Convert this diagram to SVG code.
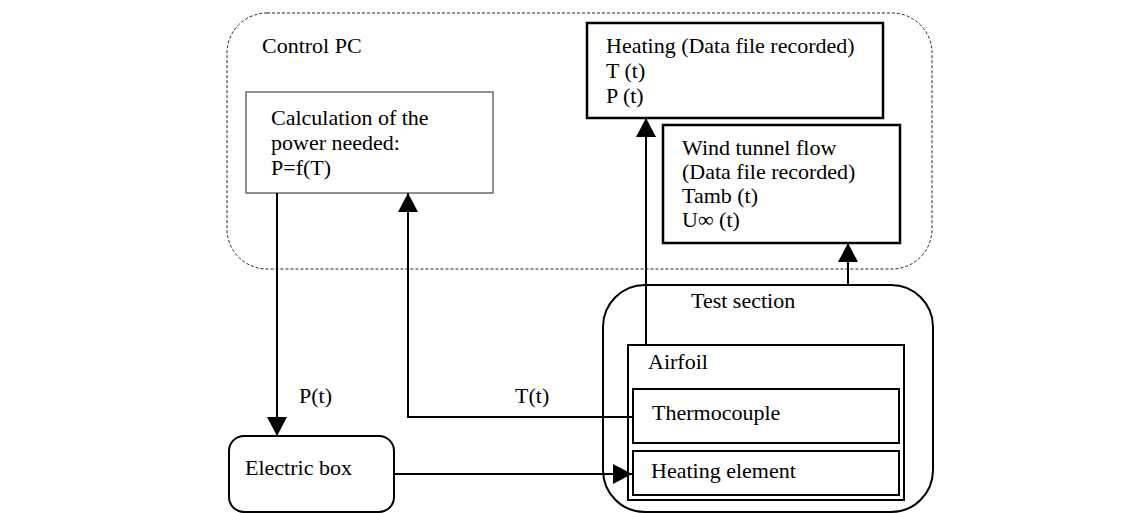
<svg xmlns="http://www.w3.org/2000/svg" width="1138" height="513" viewBox="0 0 1138 513">
<style>
text{font-family:"Liberation Serif","Times New Roman",serif;font-size:22px;fill:#000}
.box{fill:#fff;stroke:#000;stroke-width:2}
.thick{fill:#fff;stroke:#000;stroke-width:2.5}
.thin{fill:#fff;stroke:#555;stroke-width:1.3}
.dash{fill:none;stroke:#222;stroke-width:1;stroke-dasharray:3 2}
.conn{fill:none;stroke:#000;stroke-width:2}
</style>
<defs>
<marker id="arr" markerUnits="userSpaceOnUse" markerWidth="20" markerHeight="20" refX="19" refY="10" orient="auto">
<path d="M0,0 L19,10 L0,20 Z" fill="#000"/>
</marker>
</defs>
<rect width="1138" height="513" fill="#fff"/>
<g id="control-pc">
<rect class="dash" x="227" y="13" width="705" height="256" rx="40"/>
<text x="262" y="53">Control PC</text>
</g>
<g id="heating-data">
<rect class="thick" x="587" y="23" width="296" height="95"/>
<text x="606" y="53">Heating (Data file recorded)</text>
<text x="606" y="78">T (t)</text>
<text x="606" y="103">P (t)</text>
</g>
<g id="wind-data">
<rect class="thick" x="663" y="125" width="237" height="118"/>
<text x="682" y="155">Wind tunnel flow</text>
<text x="682" y="179">(Data file recorded)</text>
<text x="682" y="203">Tamb (t)</text>
<text x="682" y="227">U∞ (t)</text>
</g>
<g id="calculation">
<rect class="thin" x="246" y="92" width="247" height="101"/>
<text x="271" y="125">Calculation of the</text>
<text x="271" y="150">power needed:</text>
<text x="271" y="175">P=f(T)</text>
</g>
<g id="electric-box">
<rect class="box" x="229" y="436" width="165" height="76" rx="15"/>
<text x="245" y="475">Electric box</text>
</g>
<g id="test-section">
<rect class="box" x="603" y="285" width="330" height="227" rx="42"/>
<text x="691" y="308">Test section</text>
</g>
<g id="airfoil">
<rect class="box" x="628" y="345" width="276" height="155"/>
<text x="648" y="369">Airfoil</text>
</g>
<g id="thermocouple">
<rect class="box" x="633" y="389" width="266" height="54"/>
<text x="652" y="420">Thermocouple</text>
</g>
<g id="heating-element">
<rect class="box" x="633" y="451" width="266" height="44"/>
<text x="651" y="478">Heating element</text>
</g>
<g id="connectors">
<path class="conn" d="M277,193 V436" marker-end="url(#arr)"/>
<path class="conn" d="M633,417 H408 V193" marker-end="url(#arr)"/>
<path class="conn" d="M394,474 H632" marker-end="url(#arr)"/>
<path class="conn" d="M646,345 V118" marker-end="url(#arr)"/>
<path class="conn" d="M848,285 V243" marker-end="url(#arr)"/>
<text x="299" y="403">P(t)</text>
<text x="515" y="403">T(t)</text>
</g>
</svg>
